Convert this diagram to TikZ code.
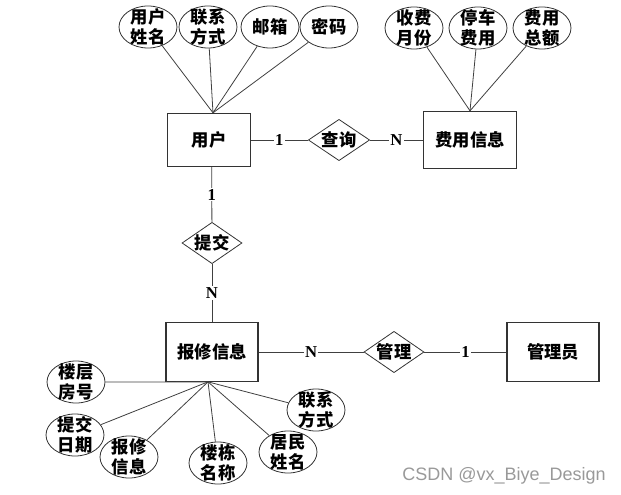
\documentclass[tikz,border=0pt]{standalone}
\usepackage{fontspec}
\setmainfont{Liberation Serif}
\newfontfamily\cjk{Noto Sans CJK SC}
\newfontfamily\wmfont{Liberation Sans}
\usetikzlibrary{shapes.geometric}

\tikzset{
  ent/.style={draw=black!80, line width=.8pt, rectangle, minimum width=62pt, minimum height=40pt,
    font=\cjk\bfseries\fontsize{13}{15}\selectfont},
  rel/.style={draw=black!80, line width=.6pt, diamond, aspect=1.5, inner sep=0pt,
    minimum width=45pt, minimum height=31pt, font=\cjk\bfseries\fontsize{13}{15}\selectfont},
  attr/.style={draw=black!80, line width=.6pt, ellipse, inner xsep=0pt, inner ysep=-3pt,
    minimum width=43.5pt, minimum height=31.5pt, align=center,
    font=\cjk\bfseries\fontsize{13}{15}\selectfont},
  card/.style={fill=white, inner sep=1pt, font=\bfseries\fontsize{12.5}{14}\selectfont},
  link/.style={draw=black!75, line width=.6pt},
}

\begin{document}
\begin{tikzpicture}[x=.75pt, y=-.75pt]
  \useasboundingbox (0,0) rectangle (621,495);

  % entities
  \node[ent] (user) at (209,140) {用户};
  \node[ent, minimum width=70pt, minimum height=43pt] (fee) at (470,140) {费用信息};
  \node[ent, minimum width=69pt, minimum height=44pt] (repair) at (212,352) {报修信息};
  \node[ent, minimum width=69pt, minimum height=44pt] (admin) at (553,352) {管理员};

  % relations
  \node[rel, minimum width=46pt] (query) at (339,140) {查询};
  \node[rel] (submit) at (212,243) {提交};
  \node[rel] (manage) at (394,352) {管理};

  \draw[link] (user) -- (query) node[card, pos=.5] {1};
  \draw[link] (query) -- (fee) node[card, pos=.5] {N};
  \draw[link] ([xshift=2pt]user.south) -- (submit) node[card, pos=.5] {1};
  \draw[link] (submit) -- (repair) node[card, pos=.5] {N};
  \draw[link] (repair) -- (manage) node[card, pos=.5] {N};
  \draw[link] (manage) -- (admin) node[card, pos=.5] {1};

  % user attrs
  \foreach \n/\x/\t in {1/148/{用户\\姓名}, 2/208/{联系\\方式}, 3/270/邮箱, 4/329/密码}
  { \node[attr] (ua\n) at (\x,27) {\t}; \draw[link] (ua\n) -- ([xshift=3pt]user.north); }

  % fee attrs
  \foreach \n/\x/\t in {1/414/{收费\\月份}, 2/478/{停车\\费用}, 3/542/{费用\\总额}}
  { \node[attr] (fa\n) at (\x,28) {\t}; \draw[link] (fa\n) -- (fee.north); }

  % repair attrs
  \foreach \n/\x/\y/\t in {1/76/382/{楼层\\房号}, 2/75/435/{提交\\日期}, 3/129/457/{报修\\信息},
      4/218/463/{楼栋\\名称}, 5/288/452/{居民\\姓名}, 6/316/410/{联系\\方式}}
  { \node[attr] (ra\n) at (\x,\y) {\t}; \draw[link] (ra\n) -- ([xshift=-3pt]repair.south); }

  % watermark
  \node[text=black!40, font=\wmfont\fontsize{13.5}{15}\selectfont] (mark) at (504,476) {CSDN @vx\_Biye\_Design};
\end{tikzpicture}
\end{document}
